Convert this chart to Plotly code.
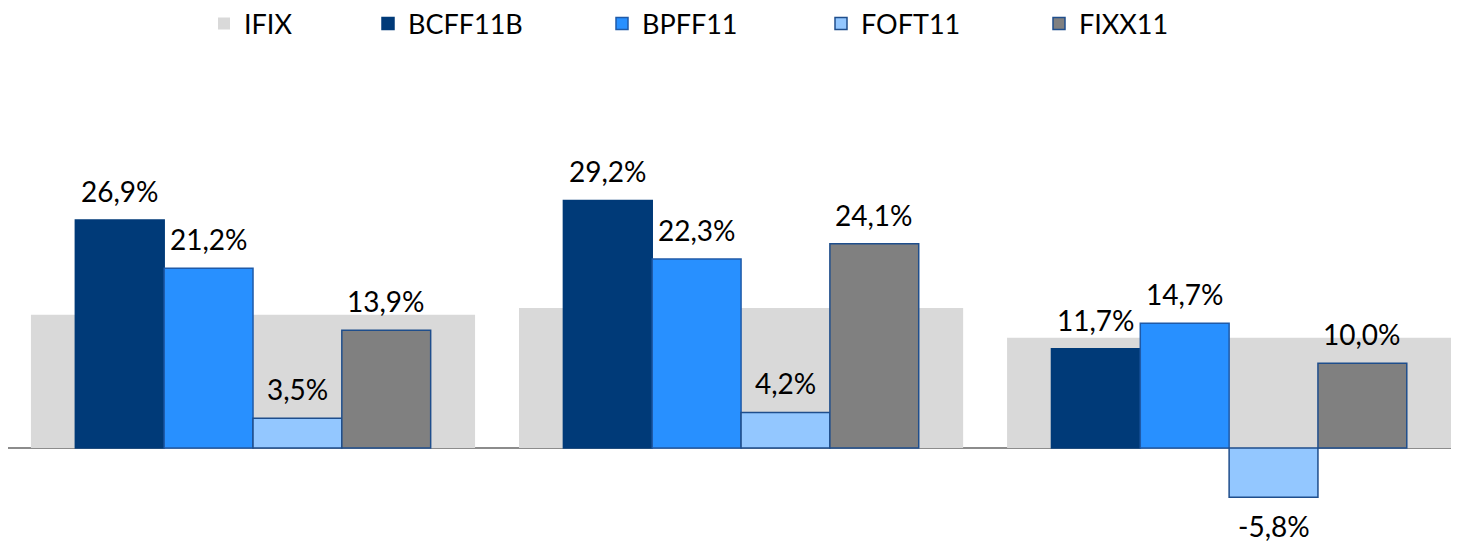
import plotly.graph_objects as go

groups = [0, 1, 2]
ifix = [15.7, 16.5, 13.0]
bcff11b = [26.9, 29.2, 11.7]
bpff11 = [21.2, 22.3, 14.7]
foft11 = [3.5, 4.2, -5.8]
fixx11 = [13.9, 24.1, 10.0]

series = [
    ("BCFF11B", bcff11b, "#003A78", "#003A78"),
    ("BPFF11", bpff11, "#2890FF", "#1F5AA8"),
    ("FOFT11", foft11, "#93C7FF", "#1F4E8C"),
    ("FIXX11", fixx11, "#808080", "#1F4E8C"),
]

FONT = "Lato"
TSIZE = 28
LSIZE = 27

fig = go.Figure()
fig.add_trace(go.Bar(
    x=groups, y=ifix, name="IFIX", width=0.91, offset=-0.455,
    marker=dict(color="#D9D9D9", line=dict(width=0)),
    legend="legend", hoverinfo="skip",
))

bw = 0.182
legend_names = ["legend2", "legend3", "legend4", "legend5"]
annotations = []
for i, (name, vals, col, lc) in enumerate(series):
    off = -2 * bw + i * bw
    fig.add_trace(go.Bar(
        x=groups, y=vals, name=name, width=bw, offset=off,
        marker=dict(color=col, line=dict(color=lc, width=1.5)),
        cliponaxis=False, legend=legend_names[i],
    ))
    for g, v in zip(groups, vals):
        label = f"{v:.1f}%".replace(".", ",")
        pos = v >= 0
        annotations.append(dict(
            x=g + off + bw / 2, y=v, xref="x", yref="y", text=label,
            showarrow=False, xanchor="center",
            yanchor="bottom" if pos else "top",
            yshift=11 if pos else -11, borderpad=0,
            font=dict(family=FONT, size=TSIZE, color="#000000"),
        ))

# page has an 8px body margin; plot spans screen x 8..1459
W = 1459
PW = W - 8

def px(xs):
    return (xs - 8) / PW

leg_common = dict(orientation="h", yanchor="middle", xanchor="left",
                  font=dict(family=FONT, size=LSIZE, color="#000000"),
                  bgcolor="rgba(0,0,0,0)", itemwidth=30)
legend_x = [204, 368, 602, 821, 1039]
layout_legends = {}
for k, lx in zip(["legend"] + legend_names, legend_x):
    d = dict(leg_common)
    d["x"] = px(lx)
    d["yref"] = "container"
    d["y"] = 1 - 16 / 543
    layout_legends[k] = d

fig.update_layout(
    width=1459, height=543,
    margin=dict(l=0, r=8, t=92, b=8),
    barmode="overlay",
    separators=",.",
    plot_bgcolor="white", paper_bgcolor="white",
    font=dict(family=FONT, size=LSIZE, color="#000000"),
    xaxis=dict(range=[-0.502, 2.471], visible=False, fixedrange=True),
    yaxis=dict(range=[-(543 - 448) / 8.48, (448 - 100) / 8.48],
               showgrid=False, showticklabels=False, zeroline=True,
               zerolinecolor="#8C8C8C", zerolinewidth=1.5),
    showlegend=True,
    annotations=annotations,
    **layout_legends,
)

fig.write_html("out.html")
